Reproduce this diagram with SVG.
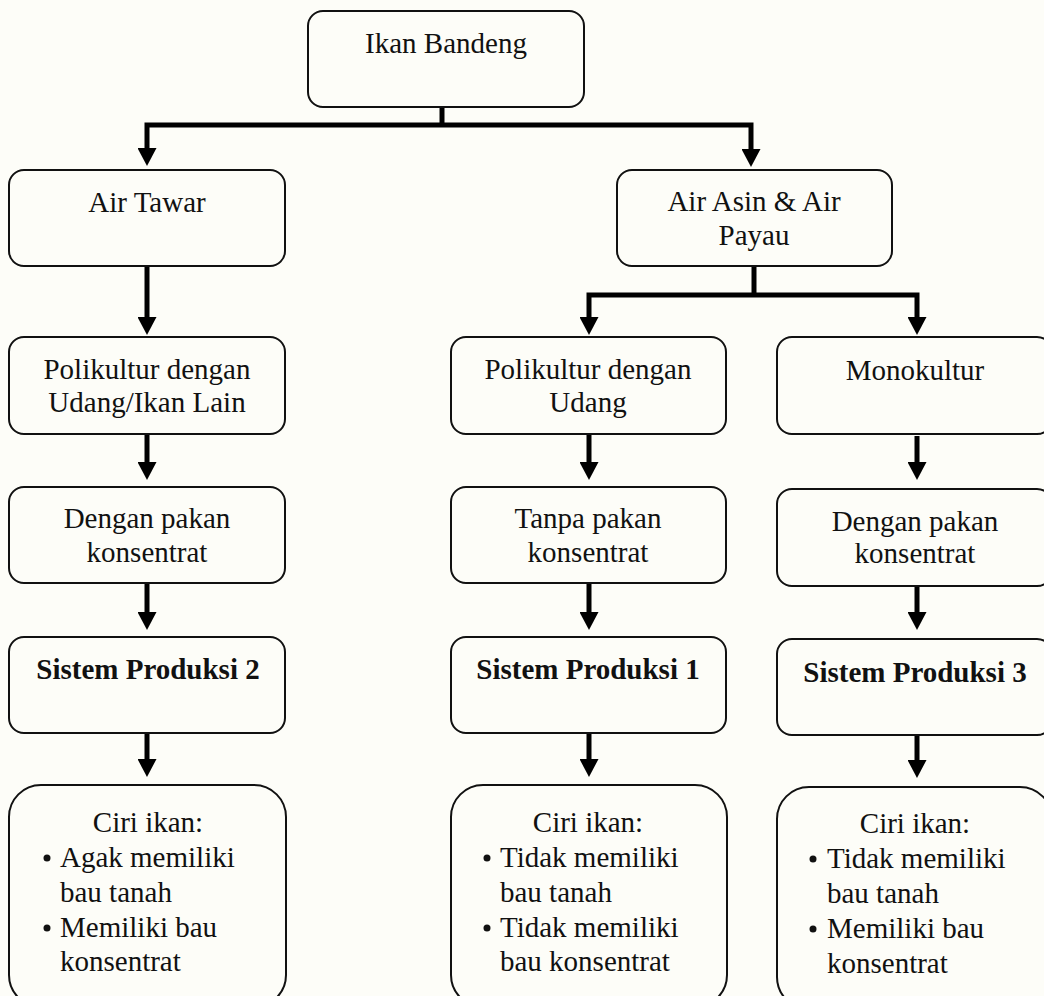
<svg xmlns="http://www.w3.org/2000/svg" width="1044" height="996" viewBox="0 0 1044 996">
<defs>
<style>
.box{fill:none;stroke:#111;stroke-width:2}
.t{font-family:"Liberation Serif","Times New Roman",serif;font-size:29px;fill:#111}
.c{text-anchor:middle}
.b{font-weight:bold}
.con{fill:none;stroke:#000;stroke-width:5;stroke-linejoin:miter}
.dot{fill:#111}
</style>
<marker id="ah" viewBox="0 0 18 19" markerUnits="userSpaceOnUse" markerWidth="18" markerHeight="19" refX="8" refY="9.5" orient="auto">
<path d="M0,0 L18,9.5 L0,19 z" fill="#000"/>
</marker>
</defs>
<rect x="0" y="0" width="1044" height="996" fill="#fdfdf8"/>
<g id="connectors">
<path class="con" d="M442,107 V125"/>
<path class="con" d="M442,125 H147 V156" marker-end="url(#ah)"/>
<path class="con" d="M442,125 H751 V157" marker-end="url(#ah)"/>
<path class="con" d="M147,266 V325" marker-end="url(#ah)"/>
<path class="con" d="M754,266 V295"/>
<path class="con" d="M754,295 H589 V325" marker-end="url(#ah)"/>
<path class="con" d="M754,295 H917 V325" marker-end="url(#ah)"/>
<path class="con" d="M147,434 V470" marker-end="url(#ah)"/>
<path class="con" d="M589,434 V470" marker-end="url(#ah)"/>
<path class="con" d="M917,436 V470" marker-end="url(#ah)"/>
<path class="con" d="M147,583 V620" marker-end="url(#ah)"/>
<path class="con" d="M589,583 V620" marker-end="url(#ah)"/>
<path class="con" d="M917,586 V620" marker-end="url(#ah)"/>
<path class="con" d="M147,733 V767" marker-end="url(#ah)"/>
<path class="con" d="M589,733 V767" marker-end="url(#ah)"/>
<path class="con" d="M917,735 V768" marker-end="url(#ah)"/>
</g>
<g id="ikan-bandeng">
<rect class="box" x="308" y="11" width="276" height="96" rx="15"/>
<text class="t c" x="446" y="53">Ikan Bandeng</text>
</g>
<g id="air-tawar">
<rect class="box" x="9" y="170" width="276" height="96" rx="15"/>
<text class="t c" x="147" y="212">Air Tawar</text>
</g>
<g id="air-asin">
<rect class="box" x="617" y="170" width="275" height="96" rx="15"/>
<text class="t c" x="754" y="211">Air Asin &amp; Air</text>
<text class="t c" x="754" y="245">Payau</text>
</g>
<g id="polikultur-lain">
<rect class="box" x="9" y="337" width="276" height="97" rx="15"/>
<text class="t c" x="147" y="379">Polikultur dengan</text>
<text class="t c" x="147" y="412">Udang/Ikan Lain</text>
</g>
<g id="polikultur-udang">
<rect class="box" x="451" y="337" width="275" height="97" rx="15"/>
<text class="t c" x="588" y="379">Polikultur dengan</text>
<text class="t c" x="588" y="412">Udang</text>
</g>
<g id="monokultur">
<rect class="box" x="777" y="337" width="275" height="97" rx="15"/>
<text class="t c" x="915" y="380">Monokultur</text>
</g>
<g id="pakan-left">
<rect class="box" x="9" y="487" width="276" height="96" rx="15"/>
<text class="t c" x="147" y="528">Dengan pakan</text>
<text class="t c" x="147" y="562">konsentrat</text>
</g>
<g id="pakan-mid">
<rect class="box" x="451" y="487" width="275" height="96" rx="15"/>
<text class="t c" x="588" y="528">Tanpa pakan</text>
<text class="t c" x="588" y="562">konsentrat</text>
</g>
<g id="pakan-right">
<rect class="box" x="777" y="489" width="275" height="97" rx="15"/>
<text class="t c" x="915" y="531">Dengan pakan</text>
<text class="t c" x="915" y="563">konsentrat</text>
</g>
<g id="sistem-2">
<rect class="box" x="9" y="637" width="276" height="96" rx="15"/>
<text class="t c b" x="148" y="679">Sistem Produksi 2</text>
</g>
<g id="sistem-1">
<rect class="box" x="451" y="637" width="275" height="96" rx="15"/>
<text class="t c b" x="588" y="679">Sistem Produksi 1</text>
</g>
<g id="sistem-3">
<rect class="box" x="777" y="639" width="275" height="96" rx="15"/>
<text class="t c b" x="915" y="682">Sistem Produksi 3</text>
</g>
<g id="ciri-2">
<rect class="box" x="9" y="785" width="277" height="222" rx="32"/>
<text class="t c" x="148" y="832">Ciri ikan:</text>
<circle class="dot" cx="47" cy="858" r="3.5"/>
<text class="t" x="60" y="867">Agak memiliki</text>
<text class="t" x="60" y="902">bau tanah</text>
<circle class="dot" cx="47" cy="928" r="3.5"/>
<text class="t" x="60" y="937">Memiliki bau</text>
<text class="t" x="60" y="971">konsentrat</text>
</g>
<g id="ciri-1">
<rect class="box" x="451" y="785" width="276" height="222" rx="32"/>
<text class="t c" x="588" y="832">Ciri ikan:</text>
<circle class="dot" cx="487" cy="858" r="3.5"/>
<text class="t" x="500" y="867">Tidak memiliki</text>
<text class="t" x="500" y="902">bau tanah</text>
<circle class="dot" cx="487" cy="928" r="3.5"/>
<text class="t" x="500" y="937">Tidak memiliki</text>
<text class="t" x="500" y="971">bau konsentrat</text>
</g>
<g id="ciri-3">
<rect class="box" x="777" y="787" width="275" height="222" rx="32"/>
<text class="t c" x="915" y="833">Ciri ikan:</text>
<circle class="dot" cx="813" cy="859" r="3.5"/>
<text class="t" x="827" y="868">Tidak memiliki</text>
<text class="t" x="827" y="903">bau tanah</text>
<circle class="dot" cx="813" cy="929" r="3.5"/>
<text class="t" x="827" y="938">Memiliki bau</text>
<text class="t" x="827" y="973">konsentrat</text>
</g>
</svg>
